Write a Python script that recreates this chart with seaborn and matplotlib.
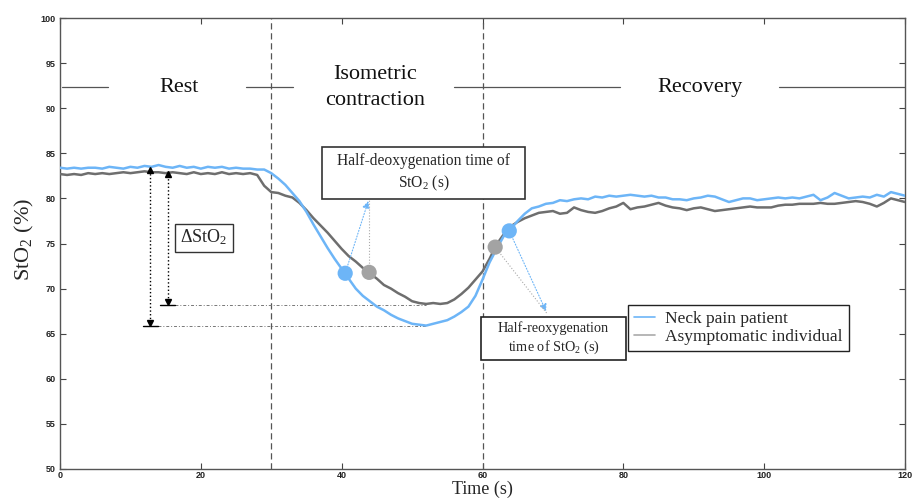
import numpy as np
import pandas as pd
import matplotlib
matplotlib.use("Agg")
import matplotlib.pyplot as plt
from matplotlib.patches import Rectangle
from matplotlib.lines import Line2D
import seaborn as sns

# ---------------- data ----------------
time_s = list(range(0, 121))

neck_pain = [
    83.4, 83.3, 83.4, 83.3, 83.4, 83.4, 83.3, 83.5, 83.4, 83.3,
    83.5, 83.4, 83.6, 83.5, 83.7, 83.5, 83.4, 83.6, 83.4, 83.5,
    83.3, 83.5, 83.4, 83.5, 83.3, 83.4, 83.3, 83.3, 83.2, 83.2,
    82.8, 82.2, 81.5, 80.6, 79.7, 78.5, 77.1, 75.8, 74.5, 73.3,
    72.2, 71.1, 70.0, 69.2, 68.6, 68.0, 67.6, 67.1, 66.7, 66.4,
    66.1, 66.0, 65.9, 66.1, 66.3, 66.5, 66.9, 67.4, 68.0, 69.2,
    71.0, 72.9, 74.4, 75.8, 76.6, 77.5, 78.3, 78.9, 79.1, 79.4,
    79.5, 79.8, 79.7, 79.9, 80.0, 79.9, 80.2, 80.1, 80.3, 80.2,
    80.3, 80.4, 80.3, 80.2, 80.3, 80.1, 80.1, 79.9, 79.9, 79.8,
    80.0, 80.1, 80.3, 80.2, 79.9, 79.6, 79.8, 80.0, 80.0, 79.8,
    79.9, 80.0, 80.1, 80.0, 80.1, 80.0, 80.2, 80.4, 79.8, 80.1,
    80.6, 80.3, 80.0, 80.1, 80.2, 80.1, 80.4, 80.2, 80.7, 80.5,
    80.3,
]

asymptomatic = [
    82.7, 82.6, 82.7, 82.6, 82.8, 82.7, 82.8, 82.7, 82.8, 82.9,
    82.8, 82.9, 83.0, 82.9, 82.9, 82.8, 82.9, 82.8, 82.7, 82.9,
    82.7, 82.8, 82.7, 82.9, 82.7, 82.8, 82.7, 82.8, 82.6, 81.4,
    80.7, 80.6, 80.3, 80.1, 79.5, 78.7, 77.8, 77.0, 76.2, 75.3,
    74.4, 73.6, 73.0, 72.3, 71.7, 71.1, 70.4, 70.0, 69.5, 69.1,
    68.6, 68.4, 68.3, 68.4, 68.3, 68.4, 68.8, 69.4, 70.1, 71.0,
    71.9, 73.3, 74.9, 76.0, 76.9, 77.4, 77.8, 78.1, 78.4, 78.5,
    78.6, 78.3, 78.4, 79.0, 78.7, 78.5, 78.4, 78.6, 78.9, 79.1,
    79.5, 78.8, 79.0, 79.1, 79.3, 79.5, 79.2, 79.0, 78.9, 78.7,
    78.9, 79.0, 78.8, 78.6, 78.7, 78.8, 78.9, 79.0, 79.1, 79.0,
    79.0, 79.0, 79.2, 79.3, 79.3, 79.4, 79.4, 79.4, 79.5, 79.4,
    79.4, 79.5, 79.6, 79.7, 79.6, 79.4, 79.1, 79.5, 80.0, 79.8,
    79.6,
]

series_names = ["Neck pain patient", "Asymptomatic individual"]
series_colors = ["#6DB5F7", "#6E6E6E"]
dot_colors = ["#6DB5F7", "#A3A3A3"]

# half-time points (time, StO2)
half_deox_t = [40.5, 43.9]
half_deox_v = [71.7, 71.8]
half_reox_t = [63.8, 61.8]
half_reox_v = [76.4, 74.6]

phase_labels = ["Rest", "Isometric\ncontraction", "Recovery"]
phase_x = [16.9, 44.7, 90.9]
phase_bounds = [30, 60]

x_ticks = [0, 20, 40, 60, 80, 100, 120]
y_ticks = [50, 55, 60, 65, 70, 75, 80, 85, 90, 95, 100]

# ---------------- style ----------------
sns.set_theme(style="white")
plt.rcParams["font.family"] = ["Liberation Serif", "DejaVu Serif"]
plt.rcParams["mathtext.fontset"] = "custom"
plt.rcParams["mathtext.rm"] = "Liberation Serif"
plt.rcParams["mathtext.it"] = "Liberation Serif:italic"

fig = plt.figure(figsize=(9.14, 4.99), dpi=100)
ax = fig.add_axes([60 / 914, 1 - 469 / 499, 845 / 914, 451 / 499])

df = pd.DataFrame({
    "Time": time_s * 2,
    "StO2": neck_pain + asymptomatic,
    "Group": [series_names[0]] * len(time_s) + [series_names[1]] * len(time_s),
})

# phase boundaries
for b in phase_bounds:
    ax.axvline(b, color="#555555", lw=0.9, ls=(0, (5, 3)), zorder=1)

sns.lineplot(data=df, x="Time", y="StO2", hue="Group", hue_order=series_names[::-1],
             palette={series_names[0]: series_colors[0], series_names[1]: series_colors[1]},
             lw=1.8, legend=False, ax=ax, zorder=3, sort=True, estimator=None)

# half-time dots
dots = pd.DataFrame({
    "t": half_deox_t + half_reox_t,
    "v": half_deox_v + half_reox_v,
    "g": [series_names[0], series_names[1], series_names[0], series_names[1]],
})
sns.scatterplot(data=dots, x="t", y="v", hue="g",
                palette={series_names[0]: dot_colors[0], series_names[1]: dot_colors[1]},
                s=120, edgecolor="none", legend=False, ax=ax, zorder=5)

# ---------------- axes ----------------
ax.set_xlim(0, 120)
ax.set_ylim(50, 100)
ax.set_xticks(x_ticks)
ax.set_yticks(y_ticks)
ax.tick_params(direction="in", length=4, width=0.8, color="#444444",
               top=True, right=True, bottom=True, left=True,
               labelsize=6.5, labelcolor="#222222", pad=3)
ax.tick_params(axis="x", pad=1.5)
for lab in ax.get_xticklabels() + ax.get_yticklabels():
    lab.set_family(["Liberation Sans", "DejaVu Sans"])
    lab.set_fontweight("bold")
for s in ax.spines.values():
    s.set_color("#555555")
    s.set_linewidth(1.0)
ax.grid(False)

ax.set_xlabel("")
fig.text(482 / 914, 0.002, "Time (s)", ha="center", va="bottom", fontsize=13)
ax.set_ylabel(r"StO$_\mathrm{2}$ (%)", fontsize=16)
ax.yaxis.set_label_coords(-0.028, 0.508)

# ---------------- phase header ----------------
header_y = 92.3
for x0, x1 in [(0.3, 6.8), (26.4, 33.1), (56.0, 79.5), (102.1, 120)]:
    ax.plot([x0, x1], [header_y, header_y], color="#555555", lw=0.9, zorder=2)
for lab, x in zip(phase_labels, phase_x):
    ax.text(x, header_y, lab, ha="center", va="center", fontsize=16,
            linespacing=1.5, color="#111111")

# ---------------- delta StO2 arrows ----------------
arrows = [(12.8, 83.5, 65.9, 11.8, 13.9), (15.3, 83.0, 68.2, 14.2, 16.3)]
for x, ytop, ybot, b0, b1 in arrows:
    ax.plot([x, x], [ytop - 0.4, ybot + 0.4], color="black", lw=1.0, ls=":", zorder=4)
    ax.plot([x], [ytop - 0.3], marker="^", color="black", ms=4, zorder=4)
    ax.plot([x], [ybot + 0.3], marker="v", color="black", ms=4, zorder=4)
    ax.plot([b0, b1], [ybot, ybot], color="black", lw=1.0, zorder=4)
    ax.plot([b1, 52], [ybot, ybot], color="#777777", lw=0.7, ls=(0, (3, 2, 1, 2)), zorder=2)

ax.add_patch(Rectangle((16.3, 74.1), 8.3, 3.1, fill=True, facecolor="white",
                       edgecolor="#333333", lw=1.0, zorder=6))
ax.text(20.45, 75.65, r"$\Delta$StO$_\mathrm{2}$", ha="center", va="center",
        fontsize=13, zorder=7)

# ---------------- half-deoxygenation annotation ----------------
ax.add_patch(Rectangle((37.2, 79.9), 28.9, 5.8, facecolor="white",
                       edgecolor="#333333", lw=1.2, zorder=6))
ax.text(51.65, 82.8, "Half-deoxygenation time of\nStO$_\\mathrm{2}$ (s)", ha="center",
        va="center", fontsize=11.2, linespacing=1.3, zorder=7)
ax.annotate("", xy=(43.9, 80.0), xytext=(half_deox_t[0], half_deox_v[0]),
            arrowprops=dict(arrowstyle="-|>,head_length=0.35,head_width=0.18",
                            color=series_colors[0], lw=0.8, ls=":"), zorder=4)
ax.plot([half_deox_t[1], half_deox_t[1]], [half_deox_v[1], 80.0], color="#AAAAAA",
        lw=0.8, ls=":", zorder=4)

# ---------------- half-reoxygenation annotation ----------------
ax.add_patch(Rectangle((59.8, 62.1), 20.6, 4.8, facecolor="white",
                       edgecolor="#222222", lw=1.2, zorder=6))
ax.text(70.1, 64.5, "Half-reoxygenation\ntime of StO$_\\mathrm{2}$ (s)", ha="center",
        va="center", fontsize=10.3, linespacing=1.3, zorder=7)
ax.annotate("", xy=(69.2, 67.2), xytext=(half_reox_t[0], half_reox_v[0]),
            arrowprops=dict(arrowstyle="-|>,head_length=0.35,head_width=0.18",
                            color=series_colors[0], lw=0.8, ls=":"), zorder=4)
ax.plot([half_reox_t[1], 69.2], [half_reox_v[1], 67.2], color="#AAAAAA",
        lw=0.8, ls=":", zorder=4)

# ---------------- legend ----------------
handles = [Line2D([], [], color=series_colors[0], lw=1.2),
           Line2D([], [], color="#AAAAAA", lw=1.2)]
leg = ax.legend(handles, series_names, loc="upper left",
                bbox_to_anchor=(0.672, 0.364), fontsize=12.5, frameon=True,
                fancybox=False, edgecolor="#222222", framealpha=1,
                handlelength=1.2, handletextpad=0.6, borderpad=0.35,
                labelspacing=0.1, borderaxespad=0)
leg.get_frame().set_linewidth(1.0)
leg.set_zorder(8)

fig.savefig("out.png", dpi=100)
